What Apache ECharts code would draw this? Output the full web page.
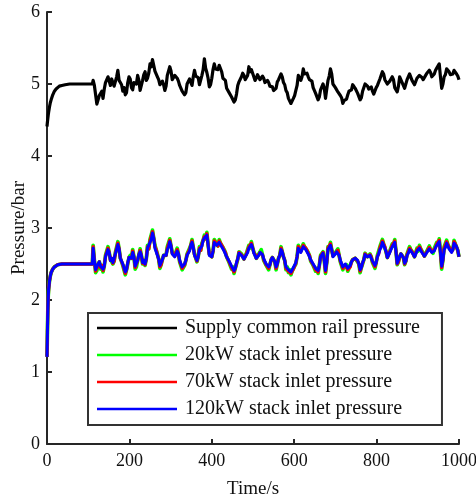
<!DOCTYPE html>
<html>
<head>
<meta charset="utf-8">
<title>Pressure</title>
<script src="https://cdn.jsdelivr.net/npm/echarts@6/dist/echarts.min.js"></script>
<style>
  html, body { margin: 0; padding: 0; background: #fff; }
  #main { width: 476px; height: 502px; }
</style>
</head>
<body>
<div id="main"></div>
<script>
// start-up part (non uniform time)
var tHead = [0, 1, 2, 3, 4, 6, 8, 10, 14, 18, 22, 26, 30, 36, 44, 55, 70, 90, 110];
var railHead = [4.41, 4.47, 4.52, 4.57, 4.61, 4.68, 4.74, 4.78, 4.85, 4.90, 4.93, 4.95, 4.97, 4.98, 4.99, 5.00, 5.00, 5.00, 5.00];
var stackHead = [1.21, 1.55, 1.85, 2.05, 2.15, 2.26, 2.33, 2.38, 2.43, 2.46, 2.48, 2.49, 2.495, 2.50, 2.50, 2.50, 2.50, 2.50, 2.50];

// fluctuating part, one value every 6 s from 112 s
var tStart = 112;
var tStep = 6;
var rail = [
  5.05, 4.85, 4.73, 4.86, 4.80, 5.02, 5.10, 4.98, 5.06, 4.96,
  5.19, 5.02, 4.90, 4.85, 5.02, 5.07, 4.92, 5.03, 5.12, 4.91,
  5.05, 5.17, 5.08, 5.28, 5.34, 5.18, 5.10, 4.99, 5.04, 4.91,
  5.12, 5.24, 5.06, 5.12, 5.08, 4.98, 4.90, 4.85, 5.00, 5.07,
  4.98, 5.19, 5.10, 4.99, 5.12, 5.35, 5.16, 4.96, 5.08, 5.28,
  5.22, 5.26, 5.17, 5.08, 4.94, 4.88, 4.82, 4.75, 4.86, 5.03,
  5.10, 5.12, 5.04, 5.24, 5.20, 5.10, 5.08, 5.12, 5.06, 5.08,
  5.00, 5.02, 4.96, 4.91, 4.94, 5.06, 5.14, 5.02, 4.91, 4.80,
  4.73, 4.80, 4.91, 5.12, 5.05, 5.21, 5.16, 5.10, 5.07, 4.95,
  4.87, 4.78, 4.92, 5.00, 4.80, 5.05, 5.21, 5.00, 4.95, 4.89,
  4.84, 4.73, 4.78, 4.85, 4.92, 4.99, 4.94, 4.87, 4.78, 4.90,
  5.00, 4.97, 4.94, 4.90, 4.87, 4.98, 5.07, 5.17, 5.06, 5.00,
  5.04, 5.10, 4.95, 4.89, 5.10, 5.02, 4.94, 5.06, 5.14, 5.05,
  4.99, 5.08, 5.12, 5.09, 5.07, 5.15, 5.19, 5.10, 5.14, 5.22,
  5.28, 4.94, 5.10, 5.21, 5.17, 5.12, 5.19, 5.14, 5.06
];
// values half way (3 s later) between the points above
var railMid = [
  4.98, 4.72, 4.84, 4.90, 4.93, 5.00, 5.08, 5.07, 4.97, 5.10,
  5.05, 4.99, 4.95, 4.88, 5.10, 4.95, 5.02, 5.00, 5.05, 4.93,
  5.13, 5.05, 5.15, 5.24, 5.26, 5.18, 5.06, 4.97, 4.99, 4.97,
  5.13, 5.18, 5.04, 5.14, 5.04, 4.98, 4.91, 4.88, 4.98, 5.06,
  5.10, 5.11, 5.09, 5.01, 5.20, 5.22, 5.08, 4.99, 5.20, 5.21,
  5.20, 5.24, 5.08, 5.05, 4.94, 4.87, 4.82, 4.78, 4.98, 5.01,
  5.15, 5.06, 5.12, 5.17, 5.18, 5.05, 5.13, 5.06, 5.11, 5.02,
  5.05, 4.97, 4.96, 4.89, 5.03, 5.06, 5.10, 4.99, 4.88, 4.79,
  4.74, 4.84, 4.98, 5.10, 5.10, 5.14, 5.15, 5.06, 5.04, 4.94,
  4.86, 4.82, 4.93, 4.94, 4.93, 5.11, 5.14, 5.01, 4.94, 4.90,
  4.81, 4.77, 4.79, 4.90, 4.92, 4.99, 4.93, 4.85, 4.81, 4.92,
  5.01, 4.93, 4.96, 4.86, 4.95, 5.00, 5.09, 5.14, 5.07, 4.98,
  5.05, 5.06, 4.95, 4.97, 5.08, 5.01, 4.96, 5.07, 5.12, 5.06,
  5.00, 5.07, 5.14, 5.06, 5.12, 5.13, 5.16, 5.09, 5.19, 5.21,
  5.10, 5.00, 5.13, 5.22, 5.13, 5.14, 5.17, 5.11
];
var stack20 = [
  2.76, 2.38, 2.48, 2.43, 2.39, 2.62, 2.74, 2.56, 2.50, 2.66,
  2.81, 2.58, 2.48, 2.35, 2.50, 2.62, 2.70, 2.43, 2.55, 2.71,
  2.50, 2.48, 2.76, 2.84, 2.97, 2.76, 2.64, 2.44, 2.56, 2.62,
  2.74, 2.85, 2.66, 2.62, 2.72, 2.53, 2.42, 2.48, 2.64, 2.72,
  2.84, 2.64, 2.53, 2.74, 2.79, 2.90, 2.94, 2.64, 2.60, 2.84,
  2.80, 2.84, 2.78, 2.70, 2.60, 2.52, 2.43, 2.37, 2.50, 2.67,
  2.64, 2.57, 2.65, 2.76, 2.81, 2.67, 2.58, 2.64, 2.70, 2.55,
  2.48, 2.42, 2.56, 2.58, 2.42, 2.58, 2.74, 2.60, 2.42, 2.38,
  2.35, 2.41, 2.50, 2.76, 2.68, 2.78, 2.74, 2.66, 2.54, 2.48,
  2.40, 2.37, 2.62, 2.67, 2.37, 2.74, 2.80, 2.62, 2.66, 2.71,
  2.53, 2.42, 2.48, 2.40, 2.44, 2.56, 2.58, 2.53, 2.38, 2.50,
  2.65, 2.60, 2.64, 2.52, 2.44, 2.62, 2.74, 2.84, 2.76, 2.59,
  2.68, 2.78, 2.84, 2.49, 2.60, 2.66, 2.49, 2.64, 2.74, 2.68,
  2.60, 2.72, 2.76, 2.68, 2.61, 2.68, 2.75, 2.68, 2.72, 2.80,
  2.85, 2.43, 2.74, 2.83, 2.75, 2.68, 2.83, 2.78, 2.60
];
var stack70 = [
  2.74, 2.40, 2.49, 2.45, 2.41, 2.61, 2.72, 2.55, 2.51, 2.65,
  2.79, 2.58, 2.49, 2.37, 2.51, 2.61, 2.68, 2.45, 2.55, 2.69,
  2.51, 2.49, 2.74, 2.82, 2.95, 2.74, 2.63, 2.46, 2.56, 2.61,
  2.72, 2.83, 2.65, 2.61, 2.70, 2.54, 2.44, 2.49, 2.63, 2.70,
  2.82, 2.63, 2.54, 2.72, 2.77, 2.88, 2.92, 2.63, 2.60, 2.82,
  2.78, 2.82, 2.76, 2.69, 2.60, 2.53, 2.45, 2.39, 2.51, 2.66,
  2.63, 2.57, 2.64, 2.74, 2.79, 2.66, 2.58, 2.63, 2.68, 2.56,
  2.49, 2.44, 2.56, 2.58, 2.44, 2.58, 2.72, 2.60, 2.44, 2.40,
  2.37, 2.43, 2.51, 2.74, 2.67, 2.76, 2.72, 2.65, 2.55, 2.49,
  2.42, 2.39, 2.61, 2.66, 2.39, 2.72, 2.78, 2.61, 2.65, 2.69,
  2.54, 2.44, 2.49, 2.42, 2.46, 2.56, 2.58, 2.54, 2.40, 2.51,
  2.64, 2.60, 2.63, 2.53, 2.46, 2.61, 2.72, 2.82, 2.74, 2.59,
  2.67, 2.76, 2.82, 2.50, 2.60, 2.65, 2.50, 2.63, 2.72, 2.67,
  2.60, 2.70, 2.74, 2.67, 2.61, 2.67, 2.73, 2.67, 2.70, 2.78,
  2.83, 2.45, 2.72, 2.81, 2.73, 2.67, 2.81, 2.76, 2.60
];
var stack120 = [
  2.72, 2.42, 2.50, 2.47, 2.43, 2.60, 2.70, 2.55, 2.52, 2.64,
  2.77, 2.58, 2.50, 2.39, 2.52, 2.60, 2.66, 2.47, 2.55, 2.67,
  2.52, 2.50, 2.72, 2.80, 2.93, 2.72, 2.62, 2.48, 2.56, 2.60,
  2.70, 2.81, 2.64, 2.60, 2.68, 2.55, 2.46, 2.50, 2.62, 2.68,
  2.80, 2.62, 2.55, 2.70, 2.75, 2.86, 2.90, 2.62, 2.60, 2.80,
  2.76, 2.80, 2.74, 2.68, 2.60, 2.54, 2.47, 2.41, 2.52, 2.65,
  2.62, 2.57, 2.63, 2.72, 2.77, 2.65, 2.58, 2.62, 2.66, 2.57,
  2.50, 2.46, 2.56, 2.58, 2.46, 2.58, 2.70, 2.60, 2.46, 2.42,
  2.39, 2.45, 2.52, 2.72, 2.66, 2.74, 2.70, 2.64, 2.56, 2.50,
  2.44, 2.41, 2.60, 2.65, 2.41, 2.70, 2.76, 2.60, 2.64, 2.67,
  2.55, 2.46, 2.50, 2.44, 2.48, 2.56, 2.58, 2.55, 2.42, 2.52,
  2.63, 2.60, 2.62, 2.54, 2.48, 2.60, 2.70, 2.80, 2.72, 2.59,
  2.66, 2.74, 2.80, 2.51, 2.60, 2.64, 2.51, 2.62, 2.70, 2.66,
  2.60, 2.68, 2.72, 2.66, 2.61, 2.66, 2.71, 2.66, 2.68, 2.76,
  2.81, 2.47, 2.70, 2.79, 2.71, 2.66, 2.79, 2.74, 2.60
];
// the three stack curves lie on top of each other between the points
var stackMid = [
  2.55, 2.41, 2.53, 2.48, 2.47, 2.61, 2.66, 2.58, 2.54, 2.66,
  2.71, 2.58, 2.48, 2.42, 2.59, 2.58, 2.60, 2.46, 2.63, 2.62,
  2.55, 2.57, 2.71, 2.84, 2.86, 2.70, 2.57, 2.49, 2.62, 2.62,
  2.74, 2.75, 2.65, 2.61, 2.64, 2.53, 2.45, 2.55, 2.62, 2.76,
  2.73, 2.62, 2.60, 2.69, 2.83, 2.85, 2.77, 2.64, 2.68, 2.81,
  2.75, 2.79, 2.73, 2.66, 2.60, 2.52, 2.46, 2.44, 2.57, 2.66,
  2.61, 2.57, 2.66, 2.72, 2.73, 2.63, 2.57, 2.66, 2.63, 2.55,
  2.50, 2.49, 2.59, 2.53, 2.50, 2.62, 2.67, 2.55, 2.46, 2.42,
  2.40, 2.47, 2.60, 2.71, 2.68, 2.74, 2.69, 2.62, 2.55, 2.49,
  2.44, 2.48, 2.60, 2.55, 2.52, 2.70, 2.70, 2.60, 2.67, 2.62,
  2.53, 2.46, 2.49, 2.44, 2.53, 2.55, 2.59, 2.50, 2.45, 2.56,
  2.63, 2.59, 2.60, 2.53, 2.52, 2.64, 2.73, 2.78, 2.67, 2.60,
  2.68, 2.75, 2.68, 2.53, 2.64, 2.59, 2.54, 2.65, 2.70, 2.65,
  2.62, 2.68, 2.71, 2.65, 2.62, 2.67, 2.70, 2.65, 2.73, 2.77,
  2.66, 2.56, 2.73, 2.77, 2.70, 2.70, 2.78, 2.69
];

var names = [
  'Supply common rail pressure',
  '20kW stack inlet pressure',
  '70kW stack inlet pressure',
  '120kW stack inlet pressure'
];
var colors = ['#000000', '#00ff00', '#ff0000', '#0000ff'];
var widths = [3.2, 3.7, 3.3, 3];

// join start-up part, the points and the half way points into [t, p] pairs
function buildData(head, body, mid) {
  var out = [];
  for (var i = 0; i < tHead.length; i++) out.push([tHead[i], head[i]]);
  for (var j = 0; j < body.length; j++) {
    out.push([tStart + j * tStep, body[j]]);
    if (j < mid.length) out.push([tStart + j * tStep + tStep / 2, mid[j]]);
  }
  return out;
}

var font = 'Liberation Serif, Times New Roman, serif';
var axisColor = '#262626';

var seriesData = [
  buildData(railHead, rail, railMid),
  buildData(stackHead, stack20, stackMid),
  buildData(stackHead, stack70, stackMid),
  buildData(stackHead, stack120, stackMid)
];

var series = names.map(function (n, i) {
  return {
    name: n,
    type: 'line',
    data: seriesData[i],
    showSymbol: false,
    symbol: 'none',
    animation: false,
    lineStyle: { color: colors[i], width: widths[i], join: 'round' },
    itemStyle: { color: colors[i] }
  };
});

var myChart = echarts.init(document.getElementById('main'));
var option = {
  backgroundColor: '#fff',
  animation: false,
  grid: { left: 47, right: 17, top: 12, bottom: 58, containLabel: false, outerBoundsMode: 'none' },
  legend: {
    orient: 'vertical',
    left: 88,
    top: 313,
    data: names.map(function (n) { return { name: n, icon: 'rect' }; }),
    itemWidth: 80,
    itemHeight: 2.5,
    itemGap: 7,
    padding: [5, 22, 6, 9],
    borderColor: '#333',
    borderWidth: 2,
    backgroundColor: '#fff',
    textStyle: { fontFamily: font, fontSize: 20, lineHeight: 20, color: '#111', padding: [0, 0, 0, 3] }
  },
  xAxis: {
    type: 'value',
    min: 0,
    max: 1000,
    interval: 200,
    name: 'Time/s',
    nameLocation: 'middle',
    nameGap: 36,
    nameTextStyle: { fontFamily: font, fontSize: 19, color: '#111' },
    axisLine: { show: true, lineStyle: { color: axisColor, width: 2 } },
    axisTick: { show: true, inside: true, length: 5, lineStyle: { color: axisColor, width: 2 } },
    axisLabel: { fontFamily: font, fontSize: 18, color: '#111', margin: 8, formatter: function (v) { return String(v); } },
    splitLine: { show: false }
  },
  yAxis: {
    type: 'value',
    min: 0,
    max: 6,
    interval: 1,
    name: 'Pressure/bar',
    nameLocation: 'middle',
    nameGap: 18,
    nameMoveOverlap: false,
    nameTextStyle: { fontFamily: font, fontSize: 19, color: '#111' },
    axisLine: { show: true, lineStyle: { color: axisColor, width: 2 } },
    axisTick: { show: true, inside: true, length: 5, lineStyle: { color: axisColor, width: 2 } },
    axisLabel: { fontFamily: font, fontSize: 18, color: '#111', margin: 7 },
    splitLine: { show: false }
  },
  series: series
};
myChart.setOption(option);
</script>
</body>
</html>
